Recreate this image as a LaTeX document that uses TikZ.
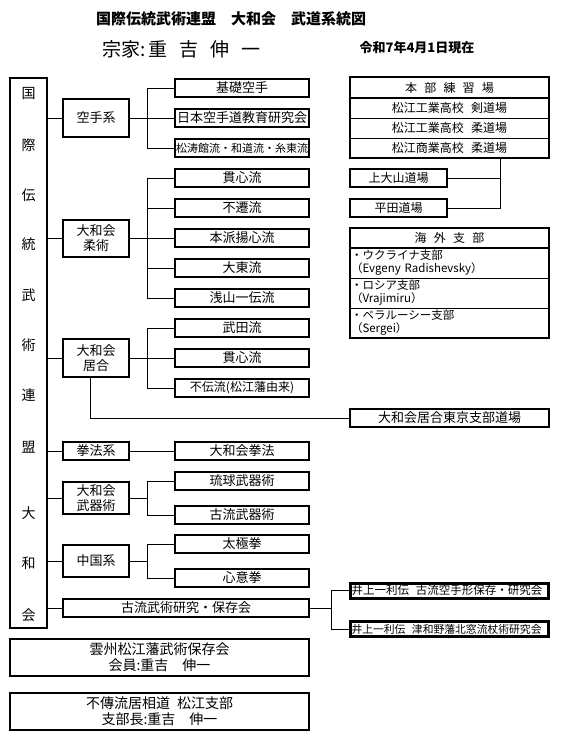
\documentclass[tikz,border=0pt]{standalone}
\usepackage{fontspec}
\setmainfont{Noto Sans CJK JP}
\usetikzlibrary{fit}
\newcommand{\jsp}{\hspace{0.6em}}

\begin{document}
\begin{tikzpicture}[x=1pt,y=1pt,
  box/.style={draw,line width=2pt,inner sep=0pt,align=center,font=\fontsize{13}{15}\selectfont},
  mid/.style={box,minimum width=66pt},
  sub/.style={box,minimum width=134pt,minimum height=18pt},
  cell/.style={draw,line width=1pt,inner sep=0pt,outer sep=0pt,minimum width=199pt,font=\fontsize{12}{13.5}\selectfont},
  kgrow/.style={cell,text width=197pt,inner xsep=1pt,align=left,minimum height=30pt,font=\fontsize{11.5}{13}\selectfont},
  ibox/.style={box,line width=3pt,minimum width=198pt,minimum height=15pt,text width=196pt,inner xsep=1pt,align=left},
  lnk/.style={line width=1pt}]
\useasboundingbox (0,0) rectangle (563,-744);
% heading
\node[font=\bfseries\fontsize{15}{17}\selectfont] (title) at (231,-19) {国際伝統武術連盟　大和会　武道系統図};
\node[font=\fontsize{19}{21}\selectfont,anchor=west] (soke) at (99,-49)
  {宗家:\hspace{3pt}重\hspace{12pt}吉\hspace{12pt}伸\hspace{12pt}一};
\node[font=\bfseries\fontsize{13}{15}\selectfont] (date) at (417,-48) {令和7年4月1日現在};
% federation column
\node[box,minimum width=37pt,minimum height=550pt] (org) at (28.5,-353) {};
\foreach \ch/\y in {国/93,際/145,伝/195,統/244,武/295,術/345,連/395,盟/447,大/513,和/563,会/615}
  \node[font=\fontsize{14}{16}\selectfont] (org\y) at (28.5,-\y) {\ch};
% schools
\node[mid,minimum height=38pt] (kara) at (96,-118) {空手系};
\node[mid,minimum height=37pt] (juj) at (96,-238) {大和会\\柔術};
\node[mid,minimum height=38pt] (iai) at (96,-358) {大和会\\居合};
\node[mid,minimum height=18pt] (kenpo) at (96,-451) {拳法系};
\node[mid,minimum height=32pt] (buki) at (96,-498) {大和会\\武器術};
\node[mid,minimum height=32pt] (china) at (96,-561) {中国系};
\node[box,minimum width=246pt,minimum height=18pt] (koryu) at (186,-608) {古流武術研究・保存会};
\foreach \n in {kara,juj,iai,kenpo,buki,china,koryu}
  \draw[lnk] (org.east |- \n) -- (\n.west);
% styles
\node[sub] (kiso) at (242,-88) {基礎空手};
\node[sub] (nihon) at (242,-118) {日本空手道教育研究会};
\node[sub,font=\fontsize{11}{13}\selectfont] (shoto) at (242,-148) {松涛館流・和道流・糸東流};
\node[sub] (kan1) at (242,-178) {貫心流};
\node[sub] (fusen) at (242,-208) {不遷流};
\node[sub] (honpa) at (242,-238) {本派揚心流};
\node[sub] (daito) at (242,-268) {大東流};
\node[sub] (asayama) at (242,-298) {浅山一伝流};
\node[sub] (takeda) at (242,-328) {武田流};
\node[sub] (kan2) at (242,-358) {貫心流};
\node[sub,font=\fontsize{12}{14}\selectfont] (fuden) at (242,-388) {不伝流(松江藩由来)};
\node[sub] (kenpoy) at (242,-451) {大和会拳法};
\node[sub] (ryukyu) at (242,-481) {琉球武器術};
\node[sub] (kobuki) at (242,-515) {古流武器術};
\node[sub] (taikyoku) at (242,-544) {太極拳};
\node[sub] (shini) at (242,-578) {心意拳};
% branch lines
\coordinate (ta) at (147,0);
\draw[lnk] (kara) -- (nihon);
\draw[lnk] (kiso.west) -- (kiso.west -| ta) |- (shoto.west);
\draw[lnk] (juj) -- (honpa);
\draw[lnk] (kan1.west) -- (kan1.west -| ta) |- (asayama.west);
\draw[lnk] (fusen.west) -- (fusen.west -| ta);
\draw[lnk] (daito.west) -- (daito.west -| ta);
\draw[lnk] (iai) -- (kan2);
\draw[lnk] (takeda.west) -- (takeda.west -| ta) |- (fuden.west);
\draw[lnk] (kenpo) -- (kenpoy);
\draw[lnk] (buki.east) -- (buki.east -| ta);
\draw[lnk] (ryukyu.west) -- (ryukyu.west -| ta) |- (kobuki.west);
\draw[lnk] (china.east) -- (china.east -| ta);
\draw[lnk] (taikyoku.west) -- (taikyoku.west -| ta) |- (shini.west);
% head dojo table
\node[cell,minimum height=21pt] (hb0) at (449.5,-87.5) {本\jsp 部\jsp 練\jsp 習\jsp 場};
\node[cell,minimum height=20pt] (hb1) at (449.5,-108) {松江工業高校\jsp 剣道場};
\node[cell,minimum height=20pt] (hb2) at (449.5,-128) {松江工業高校\jsp 柔道場};
\node[cell,minimum height=20pt] (hb3) at (449.5,-148) {松江商業高校\jsp 柔道場};
\node[draw,line width=2pt,inner sep=0pt,fit=(hb0)(hb3)] (honbu) {};
\draw[line width=2pt] (hb0.south west) -- (hb0.south east);
\node[box,font=\fontsize{12}{14}\selectfont,minimum width=97pt,minimum height=18pt] (kamioyama) at (398.5,-178) {上大山道場};
\node[box,font=\fontsize{12}{14}\selectfont,minimum width=97pt,minimum height=18pt] (hirata) at (398.5,-208) {平田道場};
\coordinate (tb) at (500,0);
\draw[lnk] (honbu.south -| tb) |- (hirata.east);
\draw[lnk] (kamioyama.east) -- (kamioyama.east -| tb);
% overseas branches table
\node[cell,minimum height=20pt] (kg0) at (449.5,-238) {海\jsp 外\jsp 支\jsp 部};
\node[kgrow] (kg1) at (449.5,-263) {・ウクライナ支部\\（Evgeny Radishevsky）};
\node[kgrow] (kg2) at (449.5,-293) {・ロシア支部\\（Vrajimiru）};
\node[kgrow] (kg3) at (449.5,-323) {・ベラルーシー支部\\（Sergei）};
\node[draw,line width=2pt,inner sep=0pt,fit=(kg0)(kg3)] (kaigai) {};
\draw[line width=2pt] (kg0.south west) -- (kg0.south east);
% Tokyo iai dojo
\node[box,minimum width=199pt,minimum height=18pt] (tokyo) at (449.5,-418) {大和会居合東京支部道場};
\draw[lnk] ([xshift=-6pt]iai.south) |- (tokyo.west);
% koryu study groups
\node[ibox,font=\fontsize{11.5}{13}\selectfont] (inoue1) at (449.5,-590.5) {井上一利伝\jsp 古流空手形保存・研究会};
\node[ibox,font=\fontsize{10.8}{12}\selectfont] (inoue2) at (449.5,-629) {井上一利伝\jsp 津和野藩北窓流杖術研究会};
\coordinate (tc) at (331,0);
\draw[lnk] (koryu.east) -- (koryu.east -| tc);
\draw[lnk] (inoue1.west) -- (inoue1.west -| tc) |- (inoue2.west);
% other memberships
\node[box,font=\fontsize{14}{16}\selectfont,minimum width=299pt,minimum height=37pt] (unshu) at (159.5,-657.5)
  {雲州松江藩武術保存会\\会員:重吉　伸一};
\node[box,font=\fontsize{14}{16}\selectfont,minimum width=299pt,minimum height=37pt] (fuden2) at (159.5,-711)
  {不傳流居相道\hspace{0.5em}松江支部\\支部長:重吉　伸一};
\end{tikzpicture}
\end{document}
